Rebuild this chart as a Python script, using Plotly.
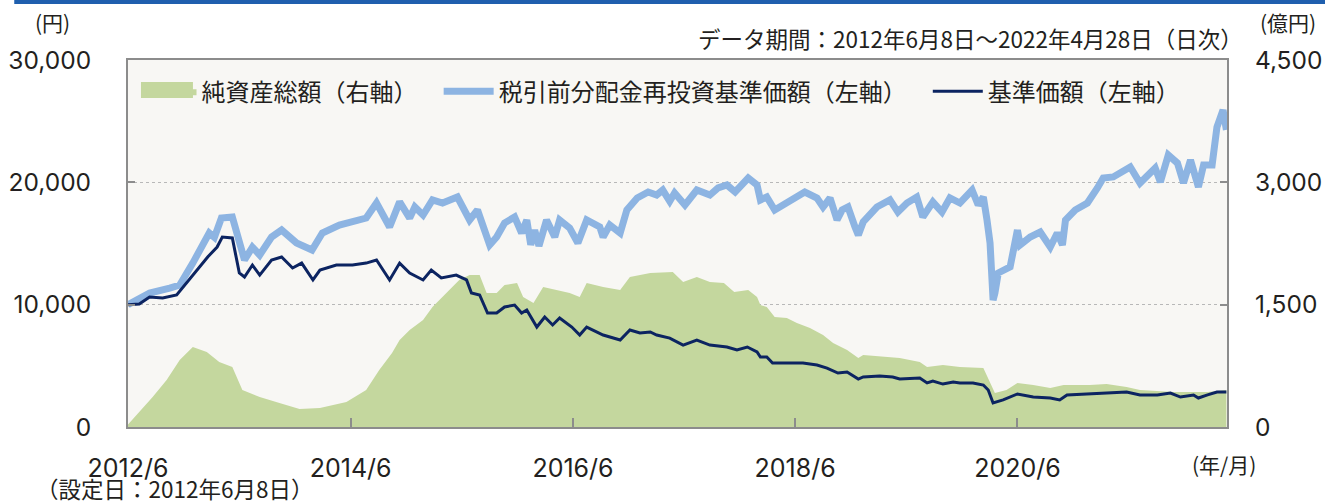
import plotly.graph_objects as go

# ---------------- data ----------------
nav_re_dates = [
    "2012-06-08", "2012-08-18", "2012-10-23", "2012-11-25", "2013-01-07", "2013-03-02", "2013-03-19",
    "2013-04-11", "2013-05-17", "2013-06-26", "2013-07-22", "2013-08-15", "2013-09-23", "2013-10-26",
    "2013-12-14", "2014-02-03", "2014-03-09", "2014-05-04", "2014-07-31", "2014-09-03", "2014-10-16",
    "2014-11-18", "2014-12-21", "2015-01-07", "2015-02-03", "2015-03-06", "2015-04-08", "2015-05-27",
    "2015-07-06", "2015-08-01", "2015-09-10", "2015-10-03", "2015-10-29", "2015-12-01", "2015-12-24",
    "2016-01-10", "2016-01-23", "2016-02-05", "2016-02-19", "2016-03-15", "2016-04-11", "2016-04-27",
    "2016-05-30", "2016-06-26", "2016-07-25", "2016-09-06", "2016-09-17", "2016-10-09", "2016-11-12",
    "2016-12-04", "2017-01-07", "2017-02-12", "2017-03-12", "2017-04-01", "2017-04-24", "2017-05-10",
    "2017-06-13", "2017-07-22", "2017-09-03", "2017-09-30", "2017-10-29", "2017-11-25", "2018-01-07",
    "2018-02-05", "2018-02-16", "2018-03-09", "2018-04-04", "2018-05-01", "2018-06-03", "2018-07-12",
    "2018-08-21", "2018-09-10", "2018-10-03", "2018-10-26", "2018-11-12", "2018-12-01", "2018-12-24",
    "2019-01-04", "2019-01-20", "2019-03-06", "2019-04-18", "2019-05-14", "2019-06-13", "2019-07-15",
    "2019-08-04", "2019-09-06", "2019-10-06", "2019-11-01", "2019-12-04", "2020-01-13", "2020-02-02",
    "2020-02-19", "2020-03-02", "2020-03-12", "2020-03-22", "2020-03-28", "2020-04-08", "2020-04-24",
    "2020-05-17", "2020-06-10", "2020-06-19", "2020-07-22", "2020-08-24", "2020-09-26", "2020-10-19",
    "2020-11-05", "2020-11-15", "2020-12-17", "2021-01-26", "2021-02-28", "2021-03-19", "2021-04-21",
    "2021-05-14", "2021-06-16", "2021-07-18", "2021-08-11", "2021-09-06", "2021-09-23", "2021-10-19",
    "2021-11-18", "2021-12-08", "2021-12-31", "2022-01-26", "2022-02-12", "2022-03-12", "2022-03-28",
    "2022-04-17", "2022-04-28",
]
nav_re_values = [
    10000, 10950, 11360, 11600, 13400, 15860, 15500,
    17080, 17170, 13650, 14700, 14060, 15530, 16100,
    15040, 14470, 15860, 16510, 17080, 18310, 16350,
    18400, 17080, 17980, 17330, 18560, 18310, 18800,
    16920, 17740, 14880, 15530, 16680, 17170, 15860,
    16920, 14900, 16100, 14800, 16920, 15530, 16920,
    16270, 15040, 16920, 16350, 15530, 16510, 15860,
    17740, 18720, 19210, 18960, 19370, 18450, 19130,
    18150, 19370, 18960, 19540, 19780, 19210, 20350,
    19780, 18560, 18800, 17740, 18150, 18560, 19210,
    18720, 17980, 18720, 16920, 17740, 17980, 16350,
    15690, 16760, 17980, 18560, 17570, 18310, 18800,
    17170, 18390, 17570, 18720, 18310, 19370, 18150,
    18800, 16920, 15040, 10380, 10950, 12590, 12830,
    13080, 16100, 14880, 15530, 15940, 14710, 15860,
    14880, 16920, 17740, 18310, 19540, 20350, 20440,
    20840, 21250, 19940, 20600, 21170, 20030, 22230,
    21580, 19940, 21820, 19620, 21420, 21420, 24520,
    25910, 24280,
]

nav_dates = [
    "2012-06-08", "2012-07-15", "2012-08-18", "2012-09-30", "2012-11-15", "2013-01-20", "2013-02-25",
    "2013-03-28", "2013-04-14", "2013-05-17", "2013-06-09", "2013-06-26", "2013-07-22", "2013-08-15",
    "2013-09-23", "2013-10-26", "2013-12-01", "2013-12-31", "2014-02-06", "2014-03-01", "2014-04-24",
    "2014-06-16", "2014-07-31", "2014-09-03", "2014-10-16", "2014-11-18", "2014-12-21", "2015-02-03",
    "2015-03-02", "2015-04-04", "2015-05-23", "2015-06-26", "2015-07-12", "2015-08-08", "2015-09-03",
    "2015-10-03", "2015-10-29", "2015-12-01", "2015-12-24", "2016-01-10", "2016-02-12", "2016-03-09",
    "2016-04-04", "2016-04-27", "2016-06-06", "2016-07-02", "2016-07-25", "2016-09-17", "2016-11-12",
    "2016-12-14", "2017-01-16", "2017-02-19", "2017-03-12", "2017-04-24", "2017-06-07", "2017-07-22",
    "2017-09-03", "2017-10-29", "2017-12-01", "2018-01-04", "2018-02-05", "2018-02-16", "2018-03-09",
    "2018-03-28", "2018-05-14", "2018-07-06", "2018-08-21", "2018-09-23", "2018-10-29", "2018-11-28",
    "2019-01-04", "2019-01-20", "2019-03-15", "2019-04-27", "2019-05-20", "2019-07-02", "2019-07-25",
    "2019-08-18", "2019-09-06", "2019-10-09", "2019-11-12", "2019-12-04", "2020-01-16", "2020-02-19",
    "2020-03-06", "2020-03-22", "2020-04-24", "2020-06-10", "2020-08-01", "2020-09-26", "2020-10-27",
    "2020-11-20", "2021-02-03", "2021-03-30", "2021-06-04", "2021-07-18", "2021-09-13", "2021-10-26",
    "2021-11-28", "2022-01-10", "2022-01-26", "2022-02-25", "2022-03-28", "2022-04-28",
]
nav_values = [
    10000, 10050, 10630, 10540, 10790, 12830, 13900,
    14710, 15530, 15450, 12590, 12260, 13240, 12420,
    13650, 13900, 13000, 13400, 12020, 12830, 13240,
    13240, 13400, 13650, 12020, 13400, 12590, 12020,
    12830, 12180, 12420, 12020, 10950, 10790, 9320,
    9320, 9810, 9970, 9320, 9560, 8170, 8990,
    8340, 8910, 8170, 7520, 8170, 7520, 7110,
    7930, 7680, 7770, 7520, 7270, 6700, 7110,
    6700, 6540, 6290, 6540, 6130, 5720, 5720,
    5230, 5230, 5230, 5070, 4820, 4410, 4500,
    3920, 4090, 4170, 4090, 3920, 4010, 4010,
    3600, 3760, 3510, 3680, 3600, 3600, 3430,
    3020, 1960, 2210, 2700, 2450, 2370, 2210,
    2620, 2700, 2780, 2860, 2620, 2620, 2780,
    2450, 2620, 2370, 2620, 2860, 2860,
]

aum_dates = [
    "2012-06-08", "2012-07-15", "2012-08-28", "2012-10-13", "2012-11-25", "2013-01-07", "2013-02-22",
    "2013-04-04", "2013-05-17", "2013-06-19", "2013-08-15", "2013-10-19", "2013-12-24", "2014-03-01",
    "2014-05-27", "2014-07-31", "2014-09-12", "2014-10-24", "2014-11-18", "2014-12-21", "2015-02-03",
    "2015-03-06", "2015-04-21", "2015-06-02", "2015-07-06", "2015-08-08", "2015-08-31", "2015-10-03",
    "2015-10-29", "2015-12-09", "2015-12-29", "2016-02-01", "2016-03-04", "2016-04-19", "2016-05-30",
    "2016-07-02", "2016-07-25", "2016-09-17", "2016-11-12", "2016-12-14", "2017-02-19", "2017-05-04",
    "2017-06-07", "2017-07-22", "2017-09-03", "2017-10-19", "2017-11-22", "2018-01-07", "2018-02-05",
    "2018-02-16", "2018-03-09", "2018-04-04", "2018-05-14", "2018-06-16", "2018-07-29", "2018-09-10",
    "2018-10-13", "2018-11-28", "2019-01-04", "2019-01-20", "2019-04-02", "2019-05-20", "2019-07-25",
    "2019-08-18", "2019-10-09", "2019-12-04", "2020-02-19", "2020-03-12", "2020-03-28", "2020-05-05",
    "2020-06-10", "2020-08-01", "2020-09-26", "2020-11-09", "2021-02-03", "2021-03-30", "2021-06-04",
    "2021-07-18", "2021-11-05", "2022-02-25", "2022-04-28",
]
aum_values = [
    30, 184, 368, 576, 821, 981, 920,
    797, 736, 454, 368, 294, 221, 233,
    307, 454, 699, 907, 1067, 1189, 1312,
    1471, 1643, 1802, 1863, 1863, 1643, 1643,
    1741, 1765, 1594, 1520, 1716, 1680, 1643,
    1594, 1765, 1716, 1680, 1839, 1888, 1900,
    1778, 1839, 1778, 1765, 1655, 1680, 1594,
    1496, 1471, 1349, 1336, 1275, 1214, 1128,
    1030, 944, 846, 883, 858, 846, 797,
    736, 760, 736, 723, 539, 417, 454,
    539, 515, 478, 515, 515, 527, 490,
    454, 429, 429, 454,
]

x_tick_vals = ["2012-06-08", "2014-06-10", "2016-06-10", "2018-06-10", "2020-06-10"]
x_tick_text = ["2012/6", "2014/6", "2016/6", "2018/6", "2020/6"]
left_tick_vals = [0, 10000, 20000, 30000]
left_tick_text = ["0", "10,000", "20,000", "30,000"]
right_tick_vals = [0, 1500, 3000, 4500]
right_tick_text = ["0", "1,500", "3,000", "4,500"]

FONT = "Noto Sans CJK JP"
NUMFONT = "Inter, Noto Sans CJK JP"
TXT = "#231f20"
AXC = "#8c8c8c"
GREEN = "#c4d79e"
SP = "\u00a0\u00a0\u00a0"

fig = go.Figure()
fig.add_trace(go.Scatter(
    x=aum_dates, y=aum_values, name="純資産総額（右軸）" + SP, mode="lines",
    line=dict(width=0, color=GREEN), fill="tozeroy", fillcolor=GREEN, yaxis="y"))
fig.add_trace(go.Scatter(
    x=nav_re_dates, y=nav_re_values, name="税引前分配金再投資基準価額（左軸）" + SP, mode="lines",
    line=dict(color="#8db4e2", width=7), yaxis="y2"))
fig.add_trace(go.Scatter(
    x=nav_dates, y=nav_values, name="基準価額（左軸）", mode="lines",
    line=dict(color="#0c2461", width=3), yaxis="y2"))

fig.update_layout(
    width=1325, height=503,
    margin=dict(l=128, r=98, t=60, b=76),
    paper_bgcolor="white", plot_bgcolor="#f8f7f4",
    font=dict(family=FONT, color=TXT, size=20),
    showlegend=True,
    legend=dict(orientation="h", x=0.0123, y=0.975, xanchor="left", yanchor="top",
                bgcolor="rgba(0,0,0,0)", font=dict(size=24, family=FONT, color=TXT),
                itemwidth=50),
    xaxis=dict(type="date", range=["2012-06-08", "2022-04-30"], automargin=False,
               tickmode="array", tickvals=x_tick_vals, ticktext=x_tick_text,
               ticks="inside", ticklen=9, tickwidth=2, tickcolor=AXC,
               showline=True, linecolor=AXC, linewidth=2, mirror=True,
               showgrid=False, zeroline=False,
               tickfont=dict(size=25, family=NUMFONT, color=TXT), ticklabelstandoff=18),
    yaxis=dict(side="right", range=[0, 4500], tickmode="array", automargin=False,
               tickvals=right_tick_vals, ticktext=right_tick_text,
               ticks="inside", ticklen=7, tickwidth=2, tickcolor=AXC,
               showline=True, linecolor=AXC, linewidth=2,
               showgrid=True, gridcolor="#b8b8b8", griddash="dot", gridwidth=1,
               zeroline=False,
               tickfont=dict(size=24.5, family=NUMFONT, color=TXT), ticklabelstandoff=21),
    yaxis2=dict(side="left", overlaying="y", range=[0, 30000], tickmode="array", automargin=False,
                tickvals=left_tick_vals, ticktext=left_tick_text,
                ticks="inside", ticklen=7, tickwidth=2, tickcolor=AXC,
                showline=True, linecolor=AXC, linewidth=2,
                showgrid=False, zeroline=False,
                tickfont=dict(size=24.5, family=NUMFONT, color=TXT), ticklabelstandoff=30),
)

ann = [
    dict(text="(円)", x=-0.069, y=1.1035, xanchor="center", yanchor="middle", font=dict(size=21)),
    dict(text="データ期間：2012年6月8日～2022年4月28日（日次）", x=1.0164, y=1.06,
         xanchor="right", yanchor="middle", font=dict(size=22.5)),
    dict(text="(億円)", x=1.0555, y=1.1035, xanchor="center", yanchor="middle", font=dict(size=21)),
    dict(text="(年/月)", x=0.9973, y=-0.1008, xanchor="center", yanchor="middle", font=dict(size=21)),
    dict(text="（設定日：2012年6月8日）", x=-0.0855, y=-0.1662, xanchor="left", yanchor="middle",
         font=dict(size=22.5)),
]
for a in ann:
    fig.add_annotation(xref="paper", yref="paper", showarrow=False, **a)

# top rule
fig.add_shape(type="rect", xref="paper", yref="paper", x0=-0.1035, x1=1.09, y0=1.1526, y1=1.17,
              line=dict(width=0), fillcolor="#1f5fae", layer="above")
# taller swatch for the area legend entry
fig.add_shape(type="rect", xref="paper", yref="paper", x0=0.0118, x1=0.0591, y0=0.8965, y1=0.940,
              line=dict(width=0), fillcolor=GREEN, layer="above")

fig.write_html("out.html", config={"displayModeBar": False},
               post_script="document.body.style.margin='0';document.body.style.overflow='hidden';")
